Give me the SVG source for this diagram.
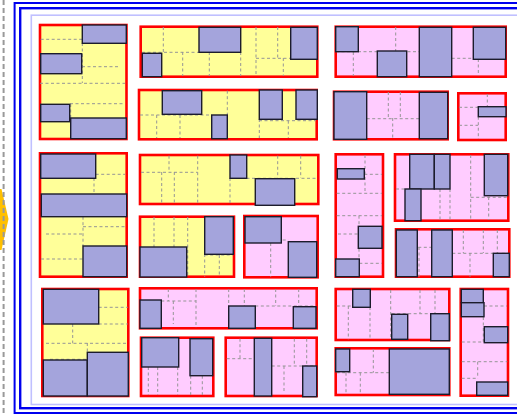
<svg xmlns="http://www.w3.org/2000/svg" width="517" height="414" viewBox="0 0 517 414">
<style>
.y{fill:#ffff99;stroke:#ff0000;stroke-width:2.6}
.p{fill:#ffccff;stroke:#ff0000;stroke-width:2.6}
.d{fill:none;stroke:#959595;stroke-width:1;stroke-dasharray:3 2.5}
.b{fill:#a4a4dc;stroke:#1c1c2c;stroke-width:1.4}
</style>
<rect width="517" height="414" fill="#ffffff"/>
<g id="frame">
<polygon points="0,189 1.5,189 8.5,219 1.5,250 0,250" fill="#ffc000"/>
<line x1="3.6" y1="0" x2="3.6" y2="414" stroke="#999999" stroke-width="2" stroke-dasharray="5 3"/>
<rect x="14.6" y="3" width="560" height="410" fill="none" stroke="#0000ee" stroke-width="2"/>
<rect x="20.2" y="8.2" width="560" height="400" fill="none" stroke="#0000ee" stroke-width="2.4"/>
<rect x="31.3" y="15.2" width="560" height="389.3" fill="none" stroke="#c0c0ff" stroke-width="1.6"/>
</g>
<g id="A">
<rect class="y" x="40" y="25" width="86.5" height="114"/>
<path class="d" d="M40.7 39.3H82.3M82.3 43V83M82 66.7H120M40 83.3H125M70 103.7H125M70.7 104V118"/>
<rect class="b" x="82.3" y="25" width="44" height="18.3"/>
<rect class="b" x="40.7" y="53.7" width="41" height="20"/>
<rect class="b" x="40.7" y="104.3" width="29" height="17.4"/>
<rect class="b" x="70.7" y="118" width="55.6" height="20.7"/>
</g>
<g id="B">
<rect class="y" x="140.7" y="26.7" width="176.6" height="50"/>
<path class="d" d="M163.3 27V52M142 52.3H199M182.7 52V76M209.3 52V76M240.7 52V76M256 27V76M277.7 27V58M256 58.3H290.7M283.3 58V76"/>
<rect class="b" x="199" y="27.3" width="41.7" height="25"/>
<rect class="b" x="290.7" y="27.3" width="26.6" height="32"/>
<rect class="b" x="142.3" y="53.3" width="19.4" height="23.4"/>
</g>
<g id="C">
<rect class="y" x="139" y="90" width="177.7" height="49.3"/>
<path class="d" d="M140 115H211.7M156.7 115V138M180 115V138M227.3 90.7V115M259 120.7H315.7M259.3 119V138M288.3 120.7V138"/>
<rect class="b" x="162.3" y="90.7" width="39.4" height="23.6"/>
<rect class="b" x="211.7" y="115" width="15.6" height="23.7"/>
<rect class="b" x="259.3" y="90" width="23" height="29.3"/>
<rect class="b" x="296" y="90" width="21.3" height="29.3"/>
</g>
<g id="D">
<rect class="p" x="335.7" y="26.7" width="170" height="50"/>
<path class="d" d="M336 51.7H419M353.3 52V76M395.7 27V51M451.7 58.3H473.3M478.3 59V76"/>
<rect class="b" x="335.7" y="26.7" width="22.6" height="25"/>
<rect class="b" x="377.3" y="51" width="29.4" height="25.7"/>
<rect class="b" x="419.3" y="27.3" width="32.4" height="49.4"/>
<rect class="b" x="473.3" y="27.3" width="32.4" height="32"/>
</g>
<g id="E">
<rect class="p" x="334" y="91.7" width="113.7" height="47.6"/>
<path class="d" d="M366.7 118.7H419.3M388.3 92V118M400.3 92V118M392.7 118V138"/>
<rect class="b" x="334" y="91.7" width="32.7" height="47.6"/>
<rect class="b" x="419.3" y="92.3" width="28.4" height="46.4"/>
</g>
<g id="F">
<rect class="p" x="458.3" y="93.3" width="47.4" height="46.7"/>
<path class="d" d="M487.3 94V106.7M459 107.3H478M478.3 116.7V139M459 125.3H478"/>
<rect class="b" x="478.3" y="106.7" width="27.7" height="10"/>
</g>
<g id="G">
<rect class="y" x="40" y="153.3" width="86.7" height="123.4"/>
<path class="d" d="M94 178V194M95.7 174.3H125M83 216.7V246M83 226.7H125M46 234H83M41 259H83"/>
<rect class="b" x="40.7" y="154" width="55" height="24.3"/>
<rect class="b" x="41.3" y="194" width="85.4" height="22.7"/>
<rect class="b" x="83" y="246" width="43.7" height="30.7"/>
</g>
<g id="H">
<rect class="y" x="140" y="155" width="178.3" height="49"/>
<path class="d" d="M169 155.7V172.3M141 172.3H197.7M161.7 172V203M174.3 172V203M197.7 155.7V203M230 178V203M230 178.3H318M277.7 155.7V178M300.7 155.7V178"/>
<rect class="b" x="230" y="155" width="16.7" height="23.3"/>
<rect class="b" x="255.3" y="178.7" width="39.4" height="26.6"/>
</g>
<g id="I">
<rect class="y" x="140" y="216.7" width="94" height="60"/>
<path class="d" d="M154 217V247M174 217V247M187.7 217V277M204.7 255H233M204.7 254V276.7M219.3 255V276.7"/>
<rect class="b" x="204.7" y="216.7" width="28.6" height="37.6"/>
<rect class="b" x="140" y="247" width="46.7" height="30"/>
</g>
<g id="J">
<rect class="p" x="244.3" y="216" width="73.4" height="61.3"/>
<path class="d" d="M270.7 243V276.7M282.7 240H288.3"/>
<rect class="b" x="245" y="216.7" width="36.3" height="26.3"/>
<rect class="b" x="288.3" y="241.7" width="28.4" height="35.6"/>
</g>
<g id="K">
<rect class="p" x="335.7" y="154.3" width="47.3" height="122.4"/>
<path class="d" d="M365 155V193.3M364.3 174.3H382M336.7 193.3H382M336.7 215.7H382M359 215.7V259M338 234H358.3M359.3 263.3H382"/>
<rect class="b" x="337.3" y="168.7" width="27" height="10.3"/>
<rect class="b" x="358.3" y="226.3" width="23.7" height="22"/>
<rect class="b" x="335.7" y="259" width="23.6" height="17.7"/>
</g>
<g id="L">
<rect class="p" x="395" y="154.3" width="113.3" height="66.4"/>
<path class="d" d="M396 189H405M440 189V220M450 189V220M470.7 155V220M470.7 197.3H507M488.7 197V220"/>
<rect class="b" x="409.7" y="154.3" width="24.6" height="34.7"/>
<rect class="b" x="434.3" y="154.3" width="15.7" height="34.7"/>
<rect class="b" x="405" y="189" width="16" height="31.7"/>
<rect class="b" x="484.3" y="154.3" width="23.4" height="41.4"/>
</g>
<g id="M">
<rect class="p" x="396" y="229.3" width="113.3" height="47.4"/>
<path class="d" d="M418.3 247.3H431.7M419 247V276.7M452.3 253.3H508M463.3 230V253M483.3 230V253M497.3 230V253M470 253V276.7"/>
<rect class="b" x="396.3" y="230" width="21" height="46.7"/>
<rect class="b" x="431.7" y="230" width="20.6" height="46.7"/>
<rect class="b" x="493.3" y="253.3" width="16" height="23.4"/>
</g>
<g id="N">
<rect class="y" x="42.3" y="289" width="86" height="107"/>
<path class="d" d="M98.7 307.3H127.7M98.7 324H127.7M72.7 324V343.3M46 343.3H127.7M87.3 343V352M50 359.3H87.3"/>
<rect class="b" x="43.3" y="289.3" width="55.4" height="34.7"/>
<rect class="b" x="43.3" y="360" width="44" height="36"/>
<rect class="b" x="87.3" y="352.3" width="41" height="43.7"/>
</g>
<g id="O">
<rect class="p" x="140" y="288.3" width="176.7" height="40"/>
<path class="d" d="M168.3 289V301M161.3 301H196M173.3 301V324M196 289V327.7M228.7 289V306M244.3 289V306M255.3 306H316M275.7 289V306M298.7 289V306"/>
<rect class="b" x="140" y="300" width="21.3" height="28.3"/>
<rect class="b" x="228.7" y="306" width="26.6" height="22.3"/>
<rect class="b" x="293.3" y="306.7" width="22.7" height="21.6"/>
</g>
<g id="P">
<rect class="p" x="141" y="337.7" width="72.3" height="58.3"/>
<path class="d" d="M148.3 367V395M157.7 367V395M177.7 367V395M190.7 375.7V395M202.3 375.7V395"/>
<rect class="b" x="141.7" y="337.7" width="37" height="29.3"/>
<rect class="b" x="190" y="338.7" width="22.7" height="37"/>
</g>
<g id="Q">
<rect class="p" x="225.7" y="337.7" width="91" height="58.3"/>
<path class="d" d="M240 338.7V358.7M226.7 358.7H254.3M271.7 366H316M284 366V391.7M294.3 338.7V366M306.7 338.7V366"/>
<rect class="b" x="254.3" y="338.3" width="17.4" height="57.7"/>
<rect class="b" x="302.7" y="366" width="14" height="30.7"/>
</g>
<g id="R">
<rect class="p" x="335.7" y="289" width="113.6" height="51"/>
<path class="d" d="M336.7 306H352.7M348.3 306V339.3M370 307V339M390.7 290V339M391.7 313.7H430.7M420 290V313.7M435 290V313.7"/>
<rect class="b" x="352.7" y="289.3" width="17.6" height="18"/>
<rect class="b" x="391.7" y="314.3" width="16" height="25"/>
<rect class="b" x="430.7" y="313.7" width="18.6" height="27"/>
</g>
<g id="S">
<rect class="p" x="335.7" y="348.3" width="113.6" height="46.7"/>
<path class="d" d="M373.3 349V372.7M336.7 372.7H389.3M346 372.7V394.3M360.3 372.7V394.3"/>
<rect class="b" x="335.7" y="349" width="14" height="22.7"/>
<rect class="b" x="389.3" y="349" width="60" height="45.3"/>
</g>
<g id="T">
<rect class="p" x="460.7" y="289" width="47.3" height="106.7"/>
<path class="d" d="M484 306H507M483.3 306V341.7M461.7 342H484.3M461.7 361.7H507.3M477.7 361.7V378.3M461.7 378.3H477.7"/>
<rect class="b" x="461.3" y="289.3" width="22" height="13.4"/>
<rect class="b" x="461.3" y="302.7" width="22.7" height="14"/>
<rect class="b" x="484.3" y="326.7" width="23.4" height="16"/>
<rect class="b" x="476.7" y="382" width="31" height="13.3"/>
</g>
<g id="connectors"></g>
</svg>
